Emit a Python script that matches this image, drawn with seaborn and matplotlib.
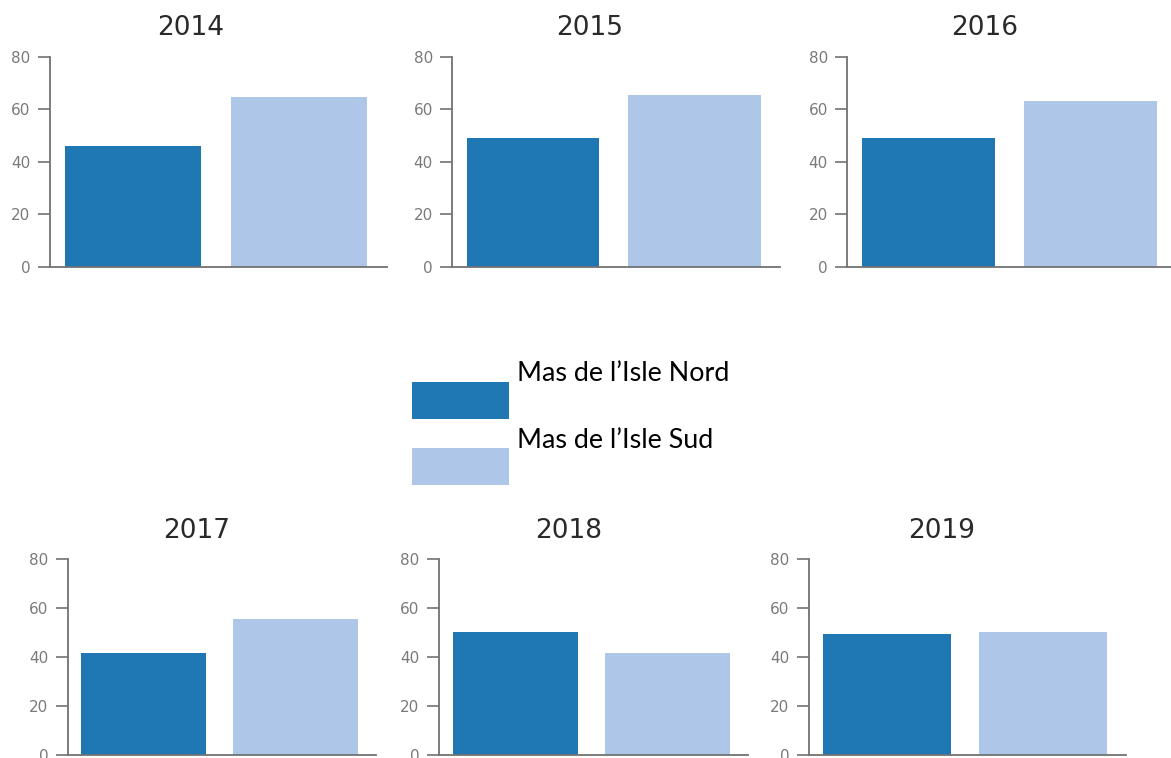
import pandas as pd
import matplotlib.pyplot as plt
import seaborn as sns
from matplotlib.patches import Rectangle

# DONNEES
annees = ['2014', '2015', '2016', '2017', '2018', '2019']
sites = ['Mas de l’Isle Nord', 'Mas de l’Isle Sud']
valeurs_nord = [46.0, 48.9, 48.9, 41.9, 50.3, 49.5]
valeurs_sud = [64.6, 65.3, 63.1, 55.6, 41.9, 50.2]
couleurs = ['#1f77b4', '#aec7e8']

dados = pd.DataFrame({
    'annee': annees * 2,
    'site': [sites[0]] * len(annees) + [sites[1]] * len(annees),
    'valeur': valeurs_nord + valeurs_sud,
})

sns.set_style('white')

W, H = 1171, 758
fig = plt.figure(figsize=(W / 100, H / 100), dpi=100)

# position des axes en pixels (gauche, haut, largeur, hauteur)
cases = [
    (50, 56.7, 337, 210),
    (452.3, 56.7, 328, 210),
    (847.3, 56.7, 329, 210),
    (67.7, 559.3, 308.6, 196),
    (439, 559.3, 309, 196),
    (809, 559.3, 316.7, 196),
]

gris = '#727272'
for annee, (l, t, w, h) in zip(annees, cases):
    ax = fig.add_axes([l / W, 1 - (t + h) / H, w / W, h / H])
    sub = dados[dados['annee'] == annee]
    sns.barplot(data=sub, x='site', y='valeur', hue='site', order=sites,
                hue_order=sites, palette=couleurs, saturation=1, width=0.82,
                linewidth=0, legend=False, ax=ax)
    ax.set_xlim(-0.5, 1.53)
    ax.set_ylim(0, 80)
    ax.set_yticks([0, 20, 40, 60, 80])
    ax.set_xticks([])
    ax.set_xlabel('')
    ax.set_ylabel('')
    sns.despine(ax=ax)
    for s in ['left', 'bottom']:
        ax.spines[s].set_color(gris)
        ax.spines[s].set_linewidth(1.3)
    ax.tick_params(axis='y', left=True, length=8.5, width=1.2, color=gris,
                   labelcolor='#7a7a7a', labelsize=11, pad=5.5)
    ax.set_title(annee, fontsize=19, color='#2a2a2a', x=0.418, pad=15.6)

# LEGENDE au milieu
for i, (site, c) in enumerate(zip(sites, couleurs)):
    y0 = 382 + i * 66
    fig.add_artist(Rectangle((412 / W, 1 - (y0 + 37) / H), 97 / W, 37 / H,
                             transform=fig.transFigure, facecolor=c,
                             edgecolor='none'))
    fig.text(516.7 / W, 1 - (380.7 + i * 67.6) / H, site, fontsize=19.4,
             family=['Lato', 'DejaVu Sans'], color='black', va='baseline')

plt.savefig('out.png', dpi=100)
